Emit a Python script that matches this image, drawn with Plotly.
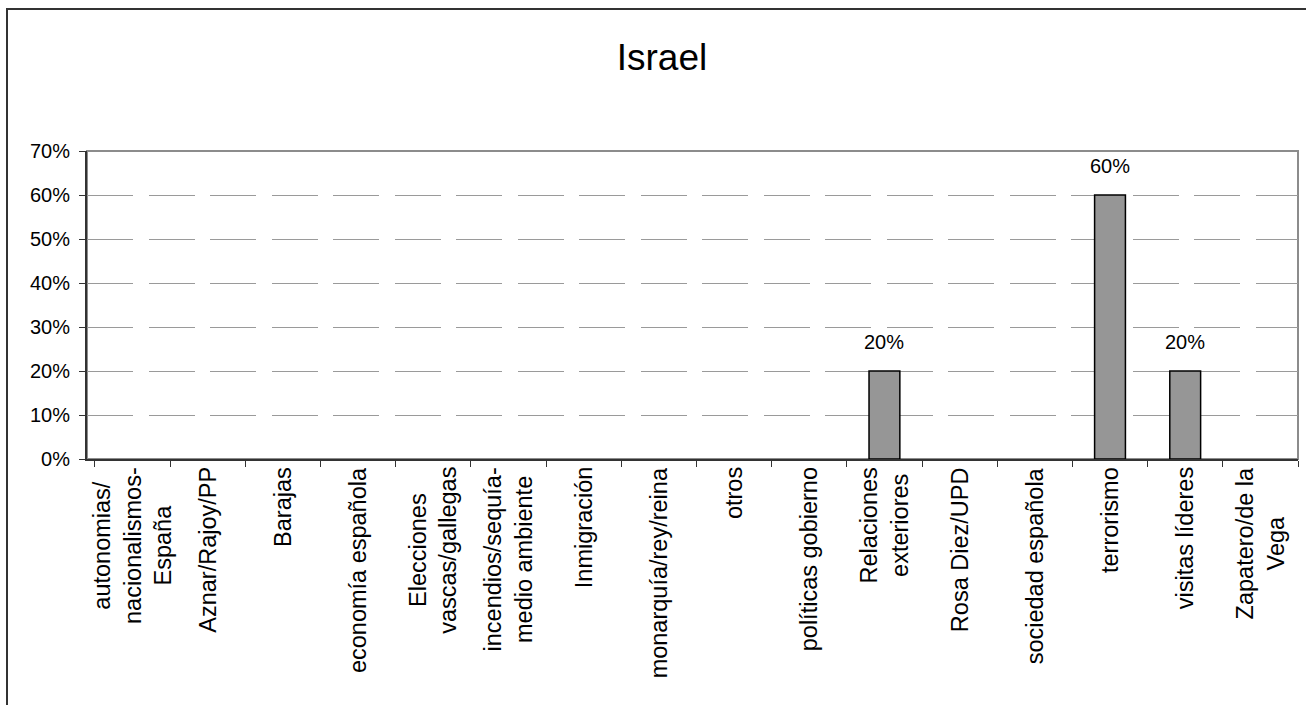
import plotly.graph_objects as go

categories = [
    "autonomias/<br>nacionalismos-<br>España",
    "Aznar/Rajoy/PP",
    "Barajas",
    "economía española",
    "Elecciones<br>vascas/gallegas",
    "incendios/sequía-<br>medio ambiente",
    "Inmigración",
    "monarquía/rey/reina",
    "otros",
    "políticas gobierno",
    "Relaciones<br>exteriores",
    "Rosa Diez/UPD",
    "sociedad española",
    "terrorismo",
    "visitas líderes",
    "Zapatero/de la<br>Vega",
]
values = [0, 0, 0, 0, 0, 0, 0, 0, 0, 0, 0.20, 0, 0, 0.60, 0.20, 0]
y_ticks = [0, 0.1, 0.2, 0.3, 0.4, 0.5, 0.6, 0.7]
title_text = "Israel"

FONT = "Liberation Sans, Arial, sans-serif"
line_widths = [1.5 if v > 0 else 0 for v in values]

W, H = 1306, 705
L, R, T, B = 87, W - 1298, 151, H - 459
PW, PH = W - L - R, H - T - B

fig = go.Figure()
fig.add_trace(go.Bar(
    x=categories, y=values,
    marker=dict(color="#969696", line=dict(color="#000000", width=line_widths)),
    width=0.41, cliponaxis=False,
))

# value labels above the non-zero bars
for c, v in zip(categories, values):
    if v > 0:
        fig.add_annotation(
            x=c, xref="x", y=v, yref="y", yanchor="bottom", xanchor="center",
            text=f"{v:.0%}", showarrow=False, yshift=16,
            font=dict(family=FONT, size=20, color="#000000"),
        )

# category labels, rotated, lines centred
for c in categories:
    fig.add_annotation(
        x=c, xref="x", y=0, yref="paper", yanchor="top", xanchor="center",
        text=c, textangle=-90, align="center", showarrow=False, yshift=-6,
        font=dict(family=FONT, size=23.5, color="#000000"),
    )

fig.update_layout(
    width=W, height=H,
    margin=dict(l=L, r=R, t=T, b=B),
    paper_bgcolor="white", plot_bgcolor="white",
    showlegend=False,
    title=dict(text=title_text, x=662 / W, xanchor="center", xref="container",
               y=1 - 57 / H, yanchor="middle",
               font=dict(family=FONT, size=37, color="#000000")),
    font=dict(family=FONT, color="#000000"),
)
fig.update_xaxes(
    type="category", tickson="boundaries", showticklabels=False,
    ticks="outside", ticklen=6, tickcolor="#333333",
    showline=True, linecolor="#333333", linewidth=2,
    showgrid=False,
)
fig.update_yaxes(
    range=[0, 0.7], tickvals=y_ticks, tickformat=".0%",
    ticks="outside", ticklen=6, tickcolor="#333333", ticklabelstandoff=5,
    showline=True, linecolor="#333333", linewidth=2,
    showgrid=True, gridcolor="#9a9a9a", gridwidth=1, griddash="46px,15.5px",
    zeroline=False,
    tickfont=dict(family=FONT, size=20, color="#000000"),
)
# plot-area frame (grey top/right) and outer chart frame
fig.add_shape(type="rect", xref="paper", yref="paper", x0=0, x1=1, y0=0, y1=1,
              line=dict(color="#8c8c8c", width=2), layer="below")
fig.add_shape(type="rect", xref="paper", yref="paper",
              x0=(7 - L) / PW, x1=1.05, y0=-1.0, y1=1 + (T - 9) / PH,
              line=dict(color="#333333", width=2), layer="below")

fig.write_html("out.html", config={"displayModeBar": False},
               post_script="document.body.style.margin='0px';")
